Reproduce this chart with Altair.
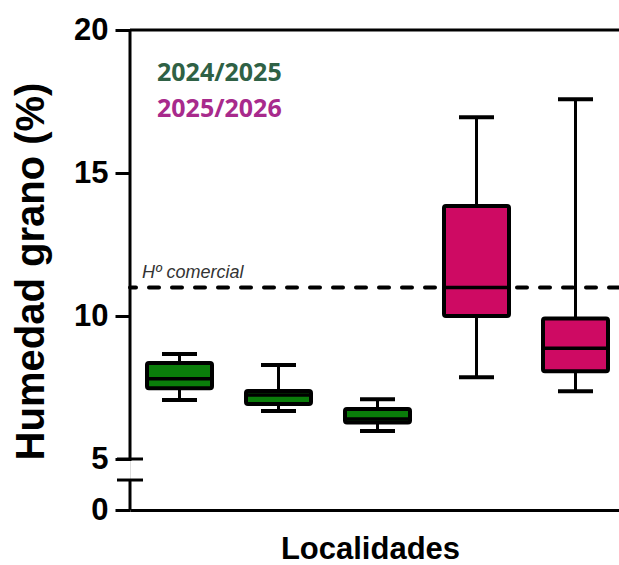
import altair as alt
import pandas as pd

# Grain moisture (%) per locality: five-number summaries for the box plots
localidades = ["Loc. 1", "Loc. 2", "Loc. 3", "Loc. 4", "Loc. 5"]
campanas = ["2024/2025", "2024/2025", "2024/2025", "2025/2026", "2025/2026"]
bigote_inf = [7.06, 6.68, 5.98, 7.86, 7.37]
cuartil_1 = [7.47, 6.92, 6.28, 10.0, 8.07]
mediana = [7.81, 7.24, 6.40, 11.0, 8.87]
cuartil_3 = [8.36, 7.38, 6.75, 13.85, 9.91]
bigote_sup = [8.67, 8.29, 7.09, 16.95, 17.58]

# Axis ticks, commercial moisture threshold and the broken-axis gap
y_ticks = [0, 5, 10, 15, 20]
humedad_comercial = 11
corte_sup = 4.8
corte_inf = 2.94

colores = ["#0A7D0A", "#CE0A63"]
colores_texto = ["#2F6145", "#A82A8C"]

df = pd.DataFrame({
    "loc": localidades,
    "campana": campanas,
    "lo": bigote_inf,
    "q1": cuartil_1,
    "med": mediana,
    "q3": cuartil_3,
    "hi": bigote_sup,
})

FONT = "Liberation Sans"

yscale = alt.Scale(domain=[0, 5, 20], range=[480, 429, 0], nice=False, zero=False)
xscale = alt.Scale(domain=localidades, range=[0, 495], paddingInner=0, paddingOuter=0)

x_enc = alt.X(
    "loc:N",
    scale=xscale,
    axis=alt.Axis(
        labels=False, ticks=False, grid=False,
        domain=True, domainColor="black", domainWidth=3,
        title="Localidades", titleFont=FONT, titleFontSize=31,
        titleFontWeight="bold", titleColor="black",
        titleX=240, titleY=48, titleBaseline="alphabetic",
    ),
)

y_axis = alt.Axis(
    values=y_ticks, domain=False, grid=False,
    tickSize=15, tickWidth=3, tickColor="black",
    labelFont=FONT, labelFontSize=31, labelFontWeight="bold",
    labelColor="black", labelPadding=7, labelOverlap=False,
    title="Humedad grano (%)", titleFont=FONT, titleFontSize=40,
    titleFontWeight="bold", titleColor="black",
    titleX=-87, titleY=241, titleBaseline="alphabetic",
)

base = alt.Chart(df)

whiskers = base.mark_rule(color="black", strokeWidth=3).encode(
    x=x_enc,
    y=alt.Y("lo:Q", scale=yscale, axis=y_axis),
    y2="hi:Q",
)

cap_lo = base.mark_tick(color="black", opacity=1, size=35, thickness=4).encode(
    x=alt.X("loc:N", scale=xscale),
    y=alt.Y("lo:Q", scale=yscale),
)
cap_hi = base.mark_tick(color="black", opacity=1, size=35, thickness=4).encode(
    x=alt.X("loc:N", scale=xscale),
    y=alt.Y("hi:Q", scale=yscale),
)

boxes = base.mark_bar(size=65, stroke="black", strokeWidth=4, cornerRadius=2, opacity=1).encode(
    x=alt.X("loc:N", scale=xscale),
    y=alt.Y("q1:Q", scale=yscale),
    y2="q3:Q",
    fill=alt.Fill("campana:N", scale=alt.Scale(domain=["2024/2025", "2025/2026"], range=colores), legend=None),
)

medians = base.mark_tick(color="black", opacity=1, size=65, thickness=3.5).encode(
    x=alt.X("loc:N", scale=xscale),
    y=alt.Y("med:Q", scale=yscale),
)

# Commercial moisture reference line and its label
ref_df = pd.DataFrame({"y": [humedad_comercial], "label": ["Hº comercial"]})
ref_line = alt.Chart(ref_df).mark_rule(
    color="black", strokeWidth=4, strokeDash=[10, 13], strokeCap="round"
).encode(y=alt.Y("y:Q", scale=yscale))
ref_label = alt.Chart(ref_df).mark_text(
    align="left", baseline="alphabetic", dy=-9, font=FONT,
    fontSize=18, fontStyle="italic", color="#333333",
).encode(x=alt.value(12), y=alt.Y("y:Q", scale=yscale), text="label:N")

# Top frame line
top_df = pd.DataFrame({"y": [20]})
top_line = alt.Chart(top_df).mark_rule(color="black", strokeWidth=3).encode(
    y=alt.Y("y:Q", scale=yscale)
)

# Broken y-axis line and the break marks
seg_df = pd.DataFrame({"a": [20, corte_inf], "b": [corte_sup, 0]})
axis_line = alt.Chart(seg_df).mark_rule(color="black", strokeWidth=3).encode(
    x=alt.value(0), y=alt.Y("a:Q", scale=yscale), y2="b:Q"
)
brk_df = pd.DataFrame({"y": [5, corte_inf]})
break_marks = alt.Chart(brk_df).mark_rule(color="black", strokeWidth=3).encode(
    x=alt.value(-13), x2=alt.value(13), y=alt.Y("y:Q", scale=yscale)
)

# Season legend as coloured text
leg_df = pd.DataFrame({"campana": ["2024/2025", "2025/2026"], "py": [51, 87]})
legend_text = alt.Chart(leg_df).mark_text(
    align="left", baseline="alphabetic", font="Open Sans",
    fontSize=25, fontWeight="bold",
).encode(
    x=alt.value(27),
    y=alt.Y("py:Q", scale=None),
    text="campana:N",
    color=alt.Color("campana:N", scale=alt.Scale(domain=["2024/2025", "2025/2026"], range=colores_texto), legend=None),
)

chart = alt.layer(
    ref_line, whiskers, boxes, medians, cap_lo, cap_hi,
    top_line, axis_line, break_marks, ref_label, legend_text,
).resolve_scale(color="independent", fill="independent").properties(
    width=489,
    height=480,
    autosize=alt.AutoSizeParams(type="none"),
    padding={"left": 130, "top": 30, "right": 0, "bottom": 55},
).configure_view(stroke=None).configure(background="white")

chart.save("out.html", embed_options={"renderer": "svg", "actions": False})
